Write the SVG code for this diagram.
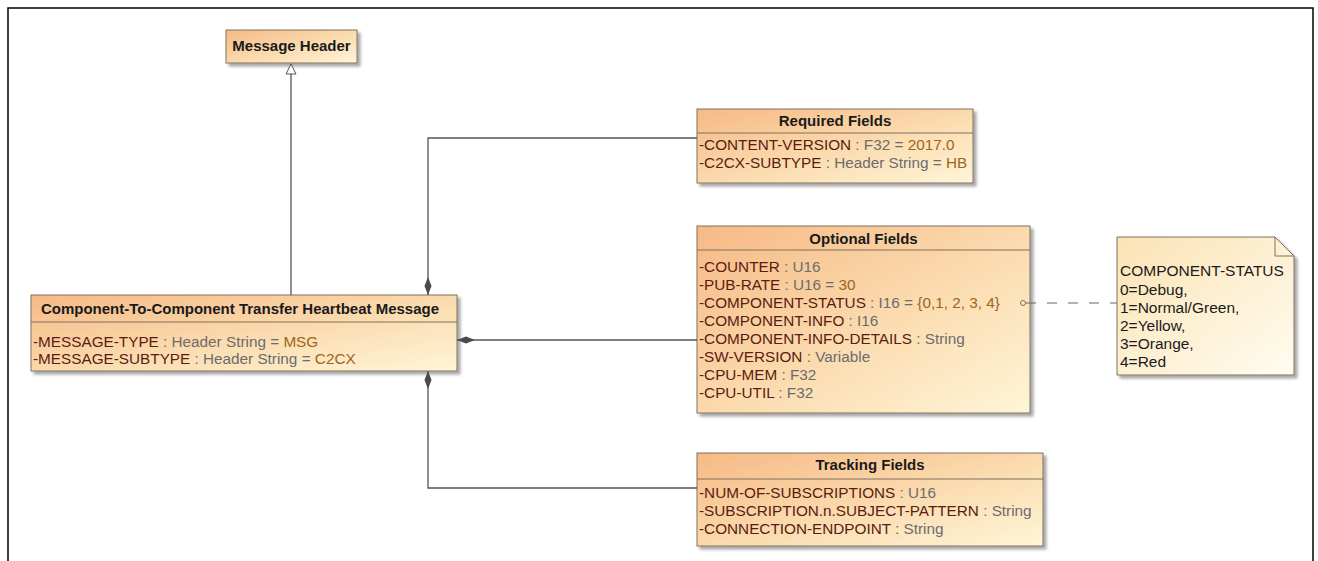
<svg xmlns="http://www.w3.org/2000/svg" width="1318" height="561" viewBox="0 0 1318 561">
<defs>
<linearGradient id="gBox" x1="0" y1="0" x2="1" y2="1">
<stop offset="0" stop-color="#f6b985"/>
<stop offset="0.55" stop-color="#fbdcb0"/>
<stop offset="1" stop-color="#fff5d8"/>
</linearGradient>
<linearGradient id="gNote" x1="0" y1="0" x2="1" y2="1">
<stop offset="0" stop-color="#fbe3b4"/>
<stop offset="1" stop-color="#fffcf0"/>
</linearGradient>
<filter id="sh" x="-5%" y="-10%" width="115%" height="130%">
<feDropShadow dx="3" dy="3" stdDeviation="1.5" flood-color="#000" flood-opacity="0.35"/>
</filter>
<marker id="diamond" viewBox="0 0 18 8" refX="0" refY="4" markerWidth="18" markerHeight="8" markerUnits="userSpaceOnUse" orient="auto">
<path d="M0,4 L9,0.5 L18,4 L9,7.5 Z" fill="#4a4a4a"/>
</marker>
<marker id="tri" viewBox="0 0 12 12" refX="11" refY="6" markerWidth="12" markerHeight="12" markerUnits="userSpaceOnUse" orient="auto">
<path d="M1,1 L11,6 L1,11 Z" fill="#fff" stroke="#555" stroke-width="1"/>
</marker>
</defs>
<style>
.box{fill:url(#gBox);stroke:#7f705f;stroke-width:1;filter:url(#sh)}
.note{fill:url(#gNote);stroke:#7f705f;stroke-width:1;filter:url(#sh)}
.sep{stroke:#7f705f;stroke-width:1}
.title{font-family:"Liberation Sans",Arial,sans-serif;font-weight:bold;font-size:15px;fill:#1a1a1a}
.attr{font-family:"Liberation Sans",Arial,sans-serif;font-size:15.3px}
.n{fill:#5a1c10}
.t{fill:#6c6c6c}
.v{fill:#a0641c}
.ntxt{font-family:"Liberation Sans",Arial,sans-serif;font-size:15.5px;fill:#1a1a1a}
.ln{fill:none;stroke:#555;stroke-width:1.3}
</style>
<rect x="8" y="8" width="1305" height="600" fill="#fff" stroke="#000" stroke-width="1.5"/>

<g id="message-header">
<rect class="box" x="226" y="30" width="131" height="33"/>
<text class="title" x="291.5" y="51" text-anchor="middle">Message Header</text>
</g>

<g id="heartbeat-message">
<rect class="box" x="31" y="295" width="426" height="76"/>
<line class="sep" x1="31" y1="322" x2="457" y2="322"/>
<text class="title" x="240" y="314" text-anchor="middle">Component-To-Component Transfer Heartbeat Message</text>
<text class="attr" x="33" y="347"><tspan class="n">-MESSAGE-TYPE</tspan><tspan class="t"> : Header String = </tspan><tspan class="v">MSG</tspan></text>
<text class="attr" x="33" y="364"><tspan class="n">-MESSAGE-SUBTYPE</tspan><tspan class="t"> : Header String = </tspan><tspan class="v">C2CX</tspan></text>
</g>

<g id="required-fields">
<rect class="box" x="697" y="109" width="276" height="74"/>
<line class="sep" x1="697" y1="133" x2="973" y2="133"/>
<text class="title" x="835" y="126" text-anchor="middle">Required Fields</text>
<text class="attr" x="699" y="150"><tspan class="n">-CONTENT-VERSION</tspan><tspan class="t"> : F32 = </tspan><tspan class="v">2017.0</tspan></text>
<text class="attr" x="699" y="168"><tspan class="n">-C2CX-SUBTYPE</tspan><tspan class="t"> : Header String = </tspan><tspan class="v">HB</tspan></text>
</g>

<g id="optional-fields">
<rect class="box" x="697" y="226" width="333" height="187"/>
<line class="sep" x1="697" y1="250" x2="1030" y2="250"/>
<text class="title" x="863.5" y="244" text-anchor="middle">Optional Fields</text>
<text class="attr" x="699" y="272"><tspan class="n">-COUNTER</tspan><tspan class="t"> : U16</tspan></text>
<text class="attr" x="699" y="290"><tspan class="n">-PUB-RATE</tspan><tspan class="t"> : U16 = </tspan><tspan class="v">30</tspan></text>
<text class="attr" x="699" y="308"><tspan class="n">-COMPONENT-STATUS</tspan><tspan class="t"> : I16 = </tspan><tspan class="v">{0,1, 2, 3, 4}</tspan></text>
<text class="attr" x="699" y="326"><tspan class="n">-COMPONENT-INFO</tspan><tspan class="t"> : I16</tspan></text>
<text class="attr" x="699" y="344"><tspan class="n">-COMPONENT-INFO-DETAILS</tspan><tspan class="t"> : String</tspan></text>
<text class="attr" x="699" y="362"><tspan class="n">-SW-VERSION</tspan><tspan class="t"> : Variable</tspan></text>
<text class="attr" x="699" y="380"><tspan class="n">-CPU-MEM</tspan><tspan class="t"> : F32</tspan></text>
<text class="attr" x="699" y="398"><tspan class="n">-CPU-UTIL</tspan><tspan class="t"> : F32</tspan></text>
</g>

<g id="tracking-fields">
<rect class="box" x="697" y="453" width="346" height="93"/>
<line class="sep" x1="697" y1="479" x2="1043" y2="479"/>
<text class="title" x="870" y="470" text-anchor="middle">Tracking Fields</text>
<text class="attr" x="699" y="498"><tspan class="n">-NUM-OF-SUBSCRIPTIONS</tspan><tspan class="t"> : U16</tspan></text>
<text class="attr" x="699" y="516"><tspan class="n">-SUBSCRIPTION.n.SUBJECT-PATTERN</tspan><tspan class="t"> : String</tspan></text>
<text class="attr" x="699" y="534"><tspan class="n">-CONNECTION-ENDPOINT</tspan><tspan class="t"> : String</tspan></text>
</g>

<g id="status-note">
<path class="note" d="M1117,237 L1275,237 L1294,256 L1294,375 L1117,375 Z"/>
<path d="M1275,237 L1275,256 L1294,256" fill="none" stroke="#7f705f" stroke-width="1"/>
<text class="ntxt" x="1120" y="276">COMPONENT-STATUS</text>
<text class="ntxt" x="1120" y="295">0=Debug,</text>
<text class="ntxt" x="1120" y="313">1=Normal/Green,</text>
<text class="ntxt" x="1120" y="331">2=Yellow,</text>
<text class="ntxt" x="1120" y="349">3=Orange,</text>
<text class="ntxt" x="1120" y="367">4=Red</text>
</g>

<g id="connectors">
<path class="ln" d="M291,295 L291,64" marker-end="url(#tri)"/>
<path class="ln" d="M428,295 L428,138 L697,138" marker-start="url(#diamond)"/>
<path class="ln" d="M457,340 L697,340" marker-start="url(#diamond)"/>
<path class="ln" d="M428,371 L428,488 L697,488" marker-start="url(#diamond)"/>
<circle cx="1023" cy="303" r="2.5" fill="none" stroke="#777" stroke-width="1"/>
<path d="M1026,303 L1117,303" fill="none" stroke="#666" stroke-width="1.2" stroke-dasharray="10,11"/>
</g>
</svg>
